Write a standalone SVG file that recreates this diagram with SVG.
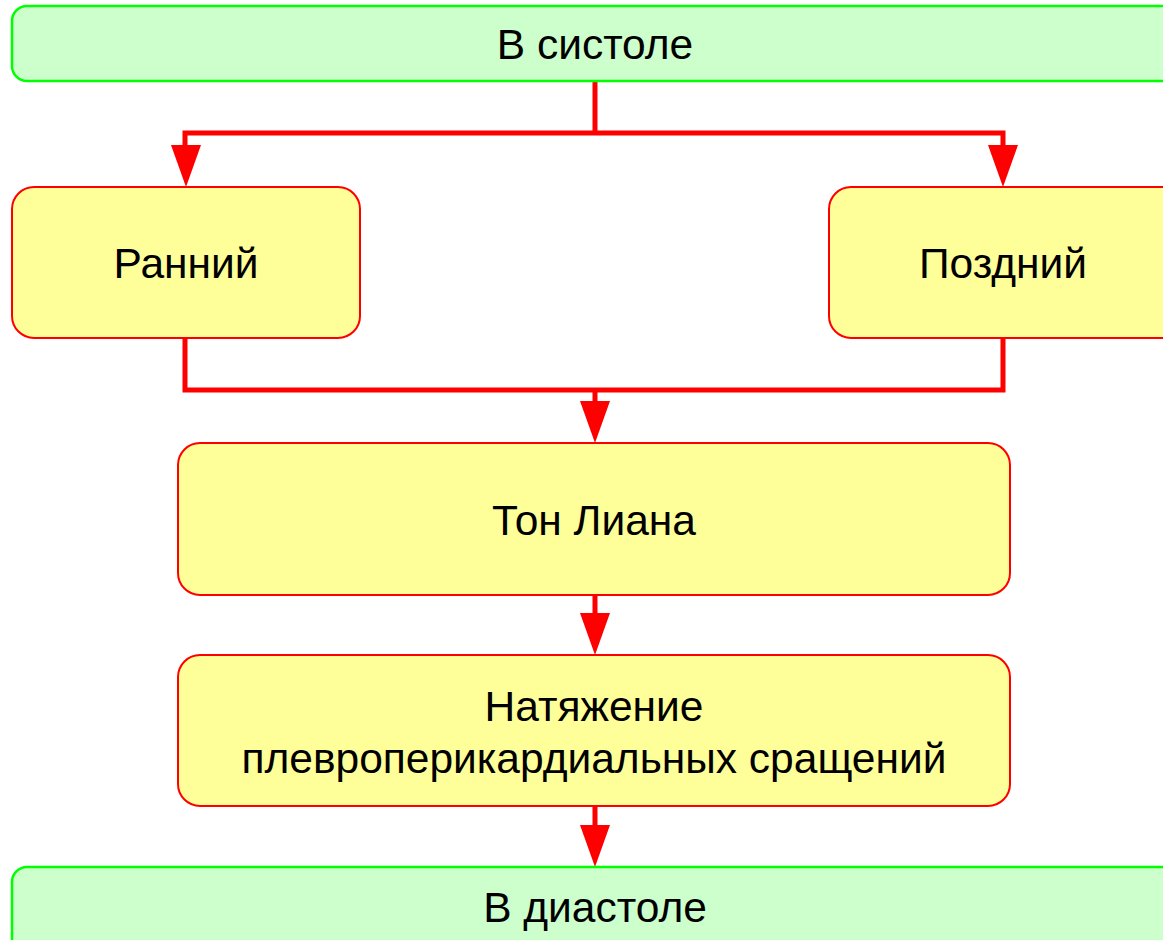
<svg xmlns="http://www.w3.org/2000/svg" width="1163" height="940" viewBox="0 0 1163 940">
<defs>
<style>
.g{fill:#ccffcc;stroke:#00ff00;stroke-width:2.5}
.y{fill:#ffff99;stroke:#ff0000;stroke-width:2}
.t{font-family:"Liberation Sans",Arial,sans-serif;font-size:42.5px;fill:#000;text-anchor:middle}
.c{fill:none;stroke:#ff0000;stroke-width:5}
.h{fill:#ff0000}
</style>
</defs>
<rect width="1163" height="940" fill="#fff"/>
<g id="connectors">
<polyline class="c" points="185,148 185,133 1003,133 1003,148"/>
<line class="c" x1="595" y1="81" x2="595" y2="133"/>
<polygon class="h" points="171,145 201,145 186,187"/>
<polygon class="h" points="988,145 1018,145 1003,187"/>
<polyline class="c" points="185,338 185,390 1003,390 1003,338"/>
<line class="c" x1="595" y1="390" x2="595" y2="404"/>
<polygon class="h" points="580,401 610,401 595,443"/>
<line class="c" x1="595" y1="595" x2="595" y2="616"/>
<polygon class="h" points="580,613 610,613 595,655"/>
<line class="c" x1="595" y1="806" x2="595" y2="828"/>
<polygon class="h" points="580,825 610,825 595,867"/>
</g>
<g id="systole">
<rect class="g" x="12" y="6" width="1170" height="75" rx="15"/>
<text class="t" x="595" y="59">В систоле</text>
</g>
<g id="early">
<rect class="y" x="12" y="187" width="348" height="151" rx="22"/>
<text class="t" x="186" y="278">Ранний</text>
</g>
<g id="late">
<rect class="y" x="829" y="187" width="360" height="151" rx="22"/>
<text class="t" x="1003" y="278">Поздний</text>
</g>
<g id="lian">
<rect class="y" x="178" y="443" width="832" height="152" rx="22"/>
<text class="t" x="594" y="535">Тон Лиана</text>
</g>
<g id="tension">
<rect class="y" x="178" y="655" width="832" height="151" rx="22"/>
<text class="t" x="594" y="721">Натяжение</text>
<text class="t" x="594" y="773">плевроперикардиальных сращений</text>
</g>
<g id="diastole">
<rect class="g" x="12" y="867" width="1170" height="90" rx="15"/>
<text class="t" x="595" y="922">В диастоле</text>
</g>
</svg>
